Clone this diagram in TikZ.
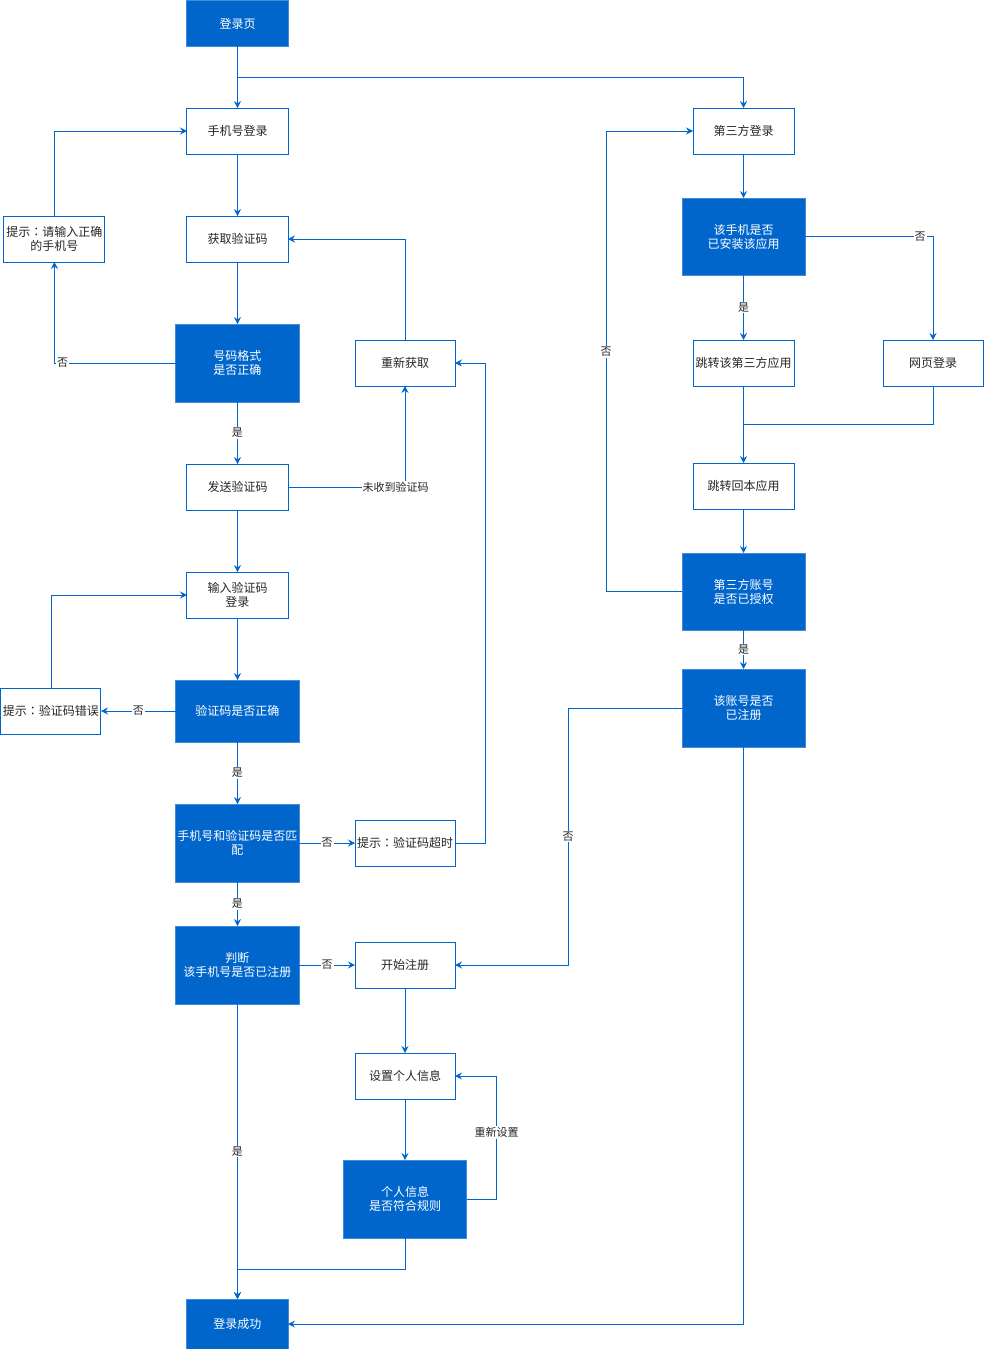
\documentclass[tikz,border=0pt]{standalone}
\usepackage{fontspec}
\setmainfont{Noto Sans CJK SC}
\newfontfamily\cjktc{Noto Sans CJK TC}
\newcommand\dospuntos{{\cjktc ：}}
\usetikzlibrary{positioning, arrows.meta}
\definecolor{azul}{HTML}{0066CC}
\definecolor{texto}{HTML}{262626}

\begin{document}
\begin{tikzpicture}[node distance=62pt,
    >={Stealth[length=7pt, width=7pt, inset=2.5pt]},
    every node/.style={font=\fontsize{12pt}{14pt}\selectfont},
    box/.style={draw=azul, line width=1pt, fill=white, text=texto, align=center,
                minimum width=101pt, minimum height=46pt, inner sep=1pt, outer sep=0pt},
    check/.style={draw=azul!75!white, line width=1pt, fill=azul, text=white, align=center,
                  minimum width=123pt, minimum height=78pt, inner sep=1pt, outer sep=0pt},
    lbl/.style={fill=white, text=texto, inner sep=1pt, font=\fontsize{11pt}{13pt}\selectfont},
    line/.style={color=azul, line width=0.8pt}]
                                \useasboundingbox (-237.5pt,23.5pt) rectangle (747.5pt,-1325.5pt);

                                % estados
                                \node [check, minimum width=101pt, minimum height=45pt] (login) at (0,0) {登录页};
                                \node [box] (phone) [below=of login] {手机号登录};
                                \node [box] (fetch) [below=of phone] {获取验证码};
                                \node [box] (tipnum) [left=82pt of fetch] {提示\dospuntos 请输入正确\\的手机号};
                                \node [check] (fmtchk) [below=of fetch] {号码格式\\是否正确};
                                \node [box, minimum width=100pt] (retry) [right=56pt of fmtchk] {重新获取};
                                \node [box] (send) [below=of fmtchk] {发送验证码};
                                \node [box] (input) [below=of send] {输入验证码\\登录};
                                \node [check, minimum height=62pt] (codechk) [below=of input] {验证码是否正确};
                                \node [box, minimum width=100pt] (tipcode) [left=75pt of codechk] {提示\dospuntos 验证码错误};
                                \node [check] (match) [below=of codechk] {手机号和验证码是否匹\\配};
                                \node [box, minimum width=100pt] (timeout) [right=56pt of match] {提示\dospuntos 验证码超时};
                                \node [check] (judge) [below=44pt of match] {判断\\该手机号是否已注册};
                                \node [box, minimum width=100pt] (reg) [right=56pt of judge] {开始注册};
                                \node [box, minimum width=100pt] (setinfo) [below=65pt of reg] {设置个人信息};
                                \node [check] (rulechk) [below=61pt of setinfo] {个人信息\\是否符合规则};
                                \node [check, minimum width=101pt, minimum height=50pt] (success) [below=295pt of judge] {登录成功};

                                \node [box] (third) [right=405pt of phone] {第三方登录};
                                \node [check, minimum height=77pt] (installchk) [below=44pt of third] {该手机是否\\已安装该应用};
                                \node [box] (jump) [below=65pt of installchk] {跳转该第三方应用};
                                \node [box, minimum width=100pt] (web) [right=89pt of jump] {网页登录};
                                \node [box] (back) [below=77pt of jump] {跳转回本应用};
                                \node [check, minimum height=77pt] (authchk) [below=44pt of back] {第三方账号\\是否已授权};
                                \node [check] (acctchk) [below=39pt of authchk] {该账号是否\\已注册};

                                % transiciones
                                \path[->, line]
                                (login) edge (phone)
                                (phone) edge (fetch)
                                (fetch) edge (fmtchk)
                                (fmtchk) edge node [lbl] {是} (send)
                                (send) edge (input)
                                (input) edge (codechk)
                                (codechk) edge node [lbl] {否} (tipcode)
                                (codechk) edge node [lbl] {是} (match)
                                (match) edge node [lbl] {否} (timeout)
                                (match) edge node [lbl] {是} (judge)
                                (judge) edge node [lbl] {否} (reg)
                                (judge) edge node [lbl] {是} (success)
                                (reg) edge (setinfo)
                                (setinfo) edge (rulechk)
                                (third) edge (installchk)
                                (installchk) edge node [lbl] {是} (jump)
                                (jump) edge (back)
                                (back) edge (authchk)
                                (authchk) edge node [lbl] {是} (acctchk);

                                \draw[->, line] (login.south) -- ++(0,-31pt) -| (third);
                                \draw[->, line] (fmtchk) -| node [lbl, pos=0.467] {否} (tipnum);
                                \draw[->, line] (tipnum) |- (phone);
                                \draw[->, line] (send) -| node [lbl, pos=0.46] {未收到验证码} (retry);
                                \draw[->, line] (retry) |- (fetch);
                                \draw[->, line] (tipcode) |- (input);
                                \draw[->, line] (timeout.east) -- ++(30pt,0) |- (retry.east);
                                \draw[->, line] (rulechk.east) -- ++(30pt,0) |- node [lbl, pos=0.27] {重新设置} (setinfo.east);
                                \draw[->, line] (rulechk.south) -- ++(0,-31pt) -| (success);
                                \draw[->, line] (installchk) -| node [lbl, pos=0.45] {否} (web);
                                \draw[line] (web.south) -- ++(0,-38pt) -| (jump.south);
                                \draw[->, line] (authchk.west) -- ++(-76pt,0) |- node [lbl, pos=0.26] {否} (third.west);
                                \draw[->, line] (acctchk.west) -- ++(-114pt,0) |- node [lbl, pos=0.25] {否} (reg.east);
                                \draw[->, line] (acctchk) |- (success);
                            \end{tikzpicture}
\end{document}
